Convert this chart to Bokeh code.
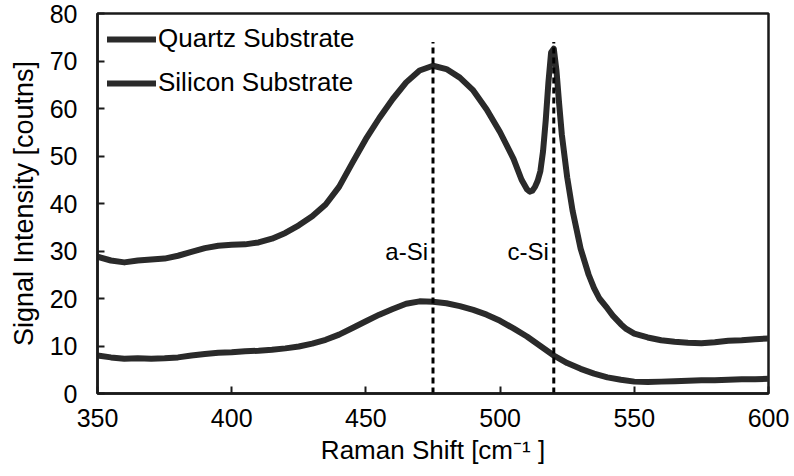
from bokeh.plotting import figure
from bokeh.models import Range1d, FixedTicker, Legend, LegendItem
from bokeh.embed import file_html
from bokeh.resources import INLINE
from bokeh.core.properties import value

# Raman shift [cm^-1] and intensity [counts] for the two substrates
silicon_shift = [350, 355, 360, 365, 370, 375, 380, 385, 390, 395,
                 400, 405, 410, 415, 420, 425, 430, 435, 440, 445,
                 450, 455, 460, 465, 470, 475, 480, 485, 490, 495,
                 500, 505, 508, 510, 511, 512, 513, 514, 515, 516,
                 517, 518, 519, 520, 521, 522, 523, 525, 527, 530,
                 533, 535, 537, 540, 542, 545, 547, 550, 555, 560,
                 565, 570, 575, 580, 585, 590, 595, 600]
silicon_counts = [28.8, 28.0, 27.6, 28.0, 28.2, 28.4, 29.0, 29.8, 30.6, 31.1,
                  31.3, 31.4, 31.8, 32.6, 33.8, 35.4, 37.3, 39.8, 43.5, 48.6,
                  53.6, 58.0, 62.0, 65.5, 68.0, 69.0, 68.3, 66.5, 63.8, 59.8,
                  55.0, 49.4, 45.0, 43.0, 42.5, 42.7, 43.5, 44.8, 46.8, 51.0,
                  57.5, 65.5, 71.8, 72.6, 68.0, 61.0, 54.5, 45.5, 38.5, 30.5,
                  25.0, 22.2, 20.0, 17.9, 16.4, 14.6, 13.6, 12.6, 11.8, 11.2,
                  10.9, 10.7, 10.6, 10.8, 11.1, 11.2, 11.4, 11.6]

quartz_shift = [350, 355, 360, 365, 370, 375, 380, 385, 390, 395,
                400, 405, 410, 415, 420, 425, 430, 435, 440, 445,
                450, 455, 460, 465, 470, 475, 480, 485, 490, 495,
                500, 505, 510, 515, 520, 525, 530, 535, 540, 545,
                550, 555, 560, 565, 570, 575, 580, 585, 590, 595,
                600]
quartz_counts = [8.0, 7.6, 7.3, 7.4, 7.3, 7.4, 7.6, 8.0, 8.3, 8.6,
                 8.7, 8.9, 9.0, 9.2, 9.5, 9.9, 10.5, 11.3, 12.4, 13.8,
                 15.2, 16.6, 17.8, 18.9, 19.4, 19.3, 19.0, 18.4, 17.6, 16.6,
                 15.3, 13.7, 12.0, 10.0, 8.0, 6.4, 5.2, 4.2, 3.4, 2.9,
                 2.5, 2.4, 2.5, 2.6, 2.7, 2.8, 2.8, 2.9, 3.0, 3.0,
                 3.1]

# Reference band positions and their labels
band_shift = [475, 520]
band_top = [74, 74]
band_labels = ["a-Si", "c-Si"]
band_label_y = [29.8, 29.8]

x_ticks = [350, 400, 450, 500, 550, 600]
y_ticks = [0, 10, 20, 30, 40, 50, 60, 70, 80]

FONT = "Liberation Sans"
INK = "#2a2a2a"

p = figure(width=794, height=476, output_backend="svg", toolbar_location=None,
           x_range=Range1d(350, 600), y_range=Range1d(0, 80),
           min_border_left=97, min_border_right=26,
           min_border_top=13, min_border_bottom=83)

p.background_fill_color = "white"
p.border_fill_color = "white"
p.outline_line_color = "#1a1a1a"
p.outline_line_width = 2.5
p.xgrid.visible = False
p.ygrid.visible = False

r_quartz = p.line(quartz_shift, quartz_counts, line_color=INK, line_width=6,
                  line_join="round", line_cap="round")
r_silicon = p.line(silicon_shift, silicon_counts, line_color=INK, line_width=6,
                   line_join="round", line_cap="round")

p.segment(x0=band_shift, y0=[0, 0], x1=band_shift, y1=band_top,
          line_color="black", line_width=3, line_dash="6 4")

p.text(x=band_shift, y=band_label_y, text=band_labels,
       text_font=value(FONT), text_font_size="24px", text_color="black",
       text_align="right", text_baseline="alphabetic", x_offset=-5)

for ax in (p.xaxis[0], p.yaxis[0]):
    ax.axis_line_color = "#1a1a1a"
    ax.axis_line_width = 2.5
    ax.major_tick_line_color = "#1a1a1a"
    ax.major_tick_line_width = 2
    ax.major_tick_in = 7
    ax.major_tick_out = 0
    ax.minor_tick_line_color = None
    ax.major_label_text_font = FONT
    ax.major_label_text_font_size = "25px"
    ax.major_label_text_color = "black"
    ax.axis_label_text_font = FONT
    ax.axis_label_text_font_style = "normal"
    ax.axis_label_text_color = "black"

p.xaxis.axis_label_text_font_size = "26px"
p.yaxis.axis_label_text_font_size = "27px"
p.xaxis.ticker = FixedTicker(ticks=x_ticks)
p.yaxis.ticker = FixedTicker(ticks=y_ticks)
p.xaxis.axis_label = "Raman Shift [cm\u207b\u00b9 ]"
p.yaxis.axis_label = "Signal Intensity [coutns]"
p.xaxis.major_label_standoff = 15
p.yaxis.major_label_standoff = 20
p.xaxis.axis_label_standoff = 5
p.yaxis.axis_label_standoff = 8

legend = Legend(items=[LegendItem(label="Quartz Substrate", renderers=[r_silicon]),
                       LegendItem(label="Silicon Substrate", renderers=[r_quartz])],
                location="top_left")
legend.margin = 0
legend.padding = 10
legend.spacing = 13
legend.glyph_width = 49
legend.glyph_height = 30
legend.label_height = 30
legend.label_standoff = 2
legend.label_text_font = FONT
legend.label_text_font_size = "26px"
legend.label_text_color = "black"
legend.border_line_alpha = 0
legend.background_fill_alpha = 0
p.add_layout(legend)

open("out.html", "w").write(file_html(p, INLINE))
